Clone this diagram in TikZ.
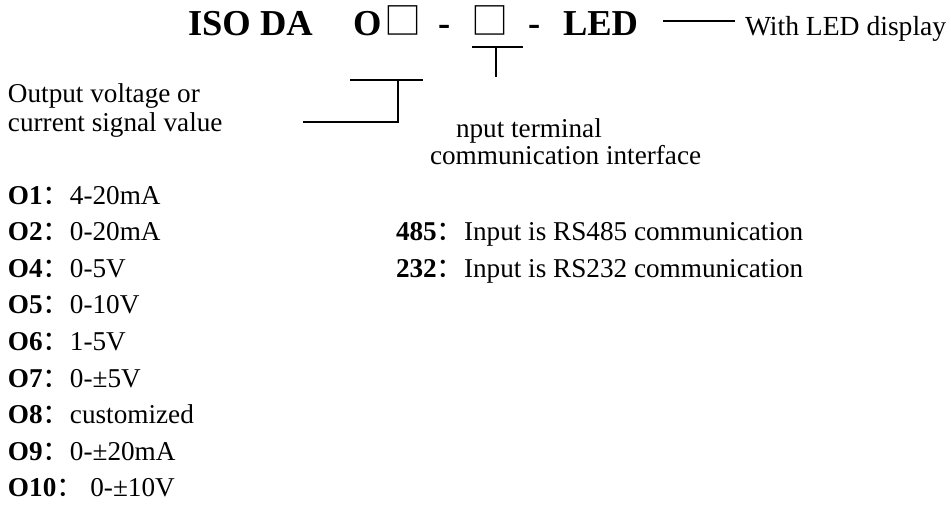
\documentclass[tikz,border=0pt]{standalone}
\usepackage{fontspec}
\setmainfont{Liberation Serif}
\newfontfamily\cjk{Noto Sans CJK SC}
\newcommand{\colonfw}{{\cjk ：}}
\begin{document}
\begin{tikzpicture}[x=1pt,y=-1pt,
  txt/.style={anchor=base west,inner sep=0pt,outer sep=0pt,font=\fontsize{27.2}{30}\selectfont},
  ttl/.style={anchor=base west,inner sep=0pt,outer sep=0pt,font=\fontsize{36.5}{40}\selectfont\bfseries},
  boxch/.style={anchor=base west,inner sep=0pt,outer sep=0pt,font=\fontsize{37}{40}\selectfont\cjk},
  conn/.style={line width=1.7pt}]
\useasboundingbox (0,0) rectangle (951,504);
% title
\node[ttl] (t1) at (188,35) {ISO DA};
\node[ttl] (t2) at (353,35) {O};
\node[boxch] (t3) at (384,34) {□};
\node[ttl] (t4) at (438,35) {-};
\node[boxch] (t5) at (471,34) {□};
\node[ttl] (t6) at (528,35) {-};
\node[ttl] (t7) at (563,35) {LED};
\node[txt,font=\fontsize{27.6}{30}\selectfont] (led) at (745,35) {With LED display};
% connectors
\coordinate (ledl) at (663,21);
\coordinate (ledr) at (735,21);
\draw[conn] (ledl) -- (ledr);
\coordinate (b2l) at (472,47);
\coordinate (b2r) at (523,47);
\coordinate (b2m) at (496,47);
\coordinate (b2d) at (496,77);
\draw[conn] (b2l) -- (b2r);
\draw[conn] (b2m) -- (b2d);
\coordinate (b1l) at (350,80);
\coordinate (b1r) at (423,80);
\coordinate (b1m) at (398,80);
\coordinate (b1c) at (398,122);
\coordinate (b1e) at (303,122);
\draw[conn] (b1l) -- (b1r);
\draw[conn] (b1m) -- (b1c) -- (b1e);
% labels
\node[txt] (out1) at (8,102) {Output voltage or};
\node[txt] (out2) at (8,131) {current signal value};
\node[txt] (in1) at (456,137) {nput terminal};
\node[txt] (in2) at (430,164) {communication interface};
% output list
\node[txt] (o1) at (8,204) {\textbf{O1}\colonfw 4-20mA};
\node[txt] (o2) at (8,240.6) {\textbf{O2}\colonfw 0-20mA};
\node[txt] (o4) at (8,277.2) {\textbf{O4}\colonfw 0-5V};
\node[txt] (o5) at (8,313.8) {\textbf{O5}\colonfw 0-10V};
\node[txt] (o6) at (8,350.4) {\textbf{O6}\colonfw 1-5V};
\node[txt] (o7) at (8,387) {\textbf{O7}\colonfw 0-±5V};
\node[txt] (o8) at (8,423.6) {\textbf{O8}\colonfw customized};
\node[txt] (o9) at (8,460.2) {\textbf{O9}\colonfw 0-±20mA};
\node[txt] (o10) at (8,496.8) {\textbf{O10}\colonfw\ 0-±10V};
% input list
\node[txt] (c485) at (396,240.6) {\textbf{485}\colonfw Input is RS485 communication};
\node[txt] (c232) at (396,277.2) {\textbf{232}\colonfw Input is RS232 communication};
\end{tikzpicture}
\end{document}
